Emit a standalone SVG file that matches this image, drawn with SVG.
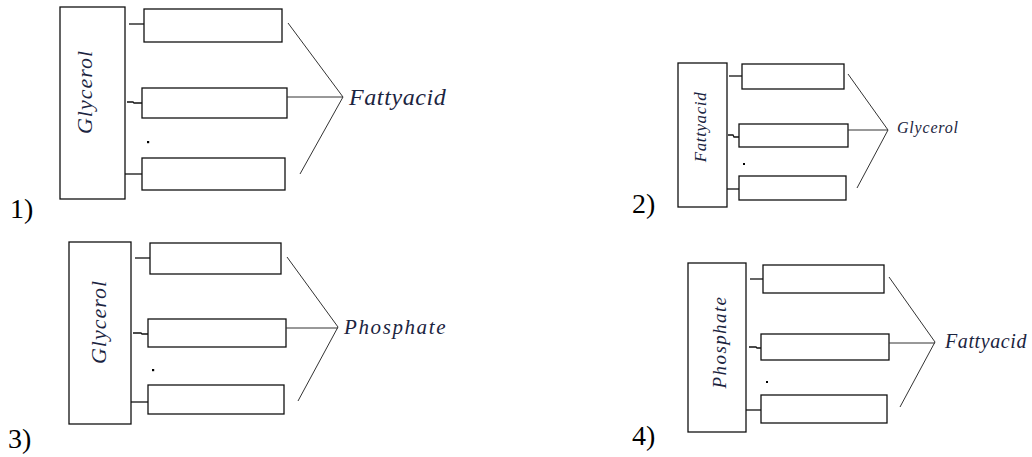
<svg xmlns="http://www.w3.org/2000/svg" width="1032" height="457" viewBox="0 0 1032 457">
  <style>
    .box { fill: #fff; stroke: #111; stroke-width: 1.3; }
    .tick { fill: none; stroke: #111; stroke-width: 1.3; }
    .fan { fill: none; stroke: #333; stroke-width: 1; }
    .lbl { font-family: "Liberation Serif", "Times New Roman", serif; font-style: italic; fill: #1b2440; }
    .num { font-family: "Liberation Serif", "Times New Roman", serif; fill: #000; font-size: 28px; }
    .dot { fill: #000; }
  </style>
  <rect width="1032" height="457" fill="#fff"/>

  <!-- Panel 1 -->
  <g id="panel1">
    <g id="p1-glycerol">
      <rect class="box" x="60" y="7" width="65" height="192"/>
      <text class="lbl" font-size="22" letter-spacing="1" text-anchor="middle" transform="translate(92,92) rotate(-90)">Glycerol</text>
    </g>
    <g id="p1-slot1"><rect class="box" x="144" y="9" width="138" height="33"/></g>
    <g id="p1-slot2"><rect class="box" x="142" y="88" width="145" height="30"/></g>
    <g id="p1-slot3"><rect class="box" x="142" y="158" width="143" height="32"/></g>
    <g id="p1-fattyacid">
      <text class="lbl" x="349" y="105" font-size="24" letter-spacing="0.6">Fattyacid</text>
    </g>
    <g id="p1-connectors">
      <path class="tick" d="M129 24 H144"/>
      <path class="tick" d="M127 102 H133 L134 103 H142"/>
      <path class="tick" d="M125 174 H142"/>
      <path class="fan" d="M288 23 L343 97 L300 174 M287 97 H343"/>
    </g>
    <rect class="dot" x="147" y="141" width="2.2" height="2.2"/>
    <text class="num" x="10" y="218">1)</text>
  </g>

  <!-- Panel 2 -->
  <g id="panel2">
    <g id="p2-fattyacid">
      <rect class="box" x="678" y="63" width="49" height="144"/>
      <text class="lbl" font-size="17" letter-spacing="0.6" text-anchor="middle" transform="translate(706,127) rotate(-90)">Fattyacid</text>
    </g>
    <g id="p2-slot1"><rect class="box" x="742" y="64" width="102" height="25"/></g>
    <g id="p2-slot2"><rect class="box" x="739" y="124" width="109" height="23"/></g>
    <g id="p2-slot3"><rect class="box" x="739" y="176" width="107" height="24"/></g>
    <g id="p2-glycerol">
      <text class="lbl" x="897" y="133" font-size="16" letter-spacing="0.8">Glycerol</text>
    </g>
    <g id="p2-connectors">
      <path class="tick" d="M729 76 H742"/>
      <path class="tick" d="M728 135 H733 L734 137 H739"/>
      <path class="tick" d="M727 189 H739"/>
      <path class="fan" d="M848 74 L888 130 L857 188 M848 130 H888"/>
    </g>
    <rect class="dot" x="743" y="163" width="2" height="2"/>
    <text class="num" x="632" y="213">2)</text>
  </g>

  <!-- Panel 3 -->
  <g id="panel3">
    <g id="p3-glycerol">
      <rect class="box" x="69" y="242" width="62" height="182"/>
      <text class="lbl" font-size="22" letter-spacing="1" text-anchor="middle" transform="translate(106,322) rotate(-90)">Glycerol</text>
    </g>
    <g id="p3-slot1"><rect class="box" x="150" y="243" width="131" height="31"/></g>
    <g id="p3-slot2"><rect class="box" x="148" y="319" width="138" height="28"/></g>
    <g id="p3-slot3"><rect class="box" x="148" y="385" width="136" height="29"/></g>
    <g id="p3-phosphate">
      <text class="lbl" x="344" y="334" font-size="21" letter-spacing="1.6">Phosphate</text>
    </g>
    <g id="p3-connectors">
      <path class="tick" d="M135 258 H150"/>
      <path class="tick" d="M133 333 H141 L142 334 H148"/>
      <path class="tick" d="M131 402 H148"/>
      <path class="fan" d="M287 257 L338 327 L298 401 M286 328 H338"/>
    </g>
    <rect class="dot" x="152" y="369" width="2.2" height="2.2"/>
    <text class="num" x="8" y="448">3)</text>
  </g>

  <!-- Panel 4 -->
  <g id="panel4">
    <g id="p4-phosphate">
      <rect class="box" x="688" y="263" width="58" height="169"/>
      <text class="lbl" font-size="19" letter-spacing="1.4" text-anchor="middle" transform="translate(726,342) rotate(-90)">Phosphate</text>
    </g>
    <g id="p4-slot1"><rect class="box" x="763" y="265" width="121" height="28"/></g>
    <g id="p4-slot2"><rect class="box" x="761" y="334" width="128" height="26"/></g>
    <g id="p4-slot3"><rect class="box" x="761" y="395" width="126" height="28"/></g>
    <g id="p4-fattyacid">
      <text class="lbl" x="945" y="348" font-size="20" letter-spacing="0.6">Fattyacid</text>
    </g>
    <g id="p4-connectors">
      <path class="tick" d="M750 279 H763"/>
      <path class="tick" d="M749 347 H756 L757 348 H761"/>
      <path class="tick" d="M746 410 H761"/>
      <path class="fan" d="M889 277 L935 342 L900 407 M889 343 H935"/>
    </g>
    <rect class="dot" x="766" y="381" width="2" height="2"/>
    <text class="num" x="632" y="445">4)</text>
  </g>
</svg>
